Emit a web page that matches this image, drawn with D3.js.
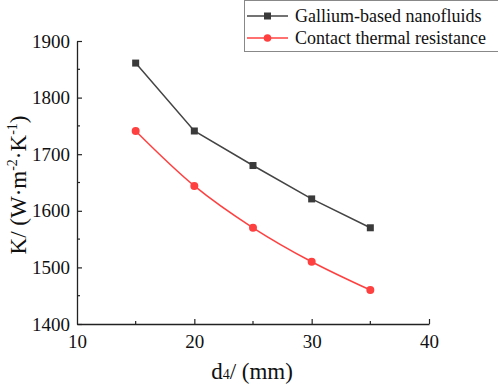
<!DOCTYPE html>
<html><head><meta charset="utf-8">
<script src="https://cdn.jsdelivr.net/npm/d3@7"></script>
<style>body{margin:0;background:#fff}svg{display:block}</style>
</head><body><svg id="c" width="498" height="388"></svg>
<script>
const xValues = [15, 20, 25, 30, 35];
const galliumValues = [1861, 1741, 1680, 1621, 1570];
const contactValues = [1741, 1644, 1570, 1510, 1460];
const seriesNames = ["Gallium-based nanofluids", "Contact thermal resistance"];
const xTicks = [10, 20, 30, 40];
const yTicks = [1400, 1500, 1600, 1700, 1800, 1900];

const FONT = '"Liberation Serif"';
const svg = d3.select("#c");
const m = {l: 77, r: 69, t: 41, b: 64};
const W = 498, H = 388;
const x = d3.scaleLinear().domain([10, 40]).range([m.l, W - m.r]);
const y = d3.scaleLinear().domain([1400, 1900]).range([H - m.b, m.t]);

// axes
const xAxis = svg.append("g").attr("transform", `translate(0,${H - m.b})`)
  .call(d3.axisBottom(x).tickValues(xTicks).tickFormat(d3.format("d")).tickSizeInner(-5).tickSizeOuter(0).tickPadding(11));
const yAxis = svg.append("g").attr("transform", `translate(${m.l},0)`)
  .call(d3.axisLeft(y).tickValues(yTicks).tickFormat(d3.format("d")).tickSizeInner(-5).tickSizeOuter(0).tickPadding(7));
[xAxis, yAxis].forEach(g => {
  g.attr("font-family", null).attr("font-size", null);
  g.select(".domain").attr("stroke", "#222").attr("stroke-width", 1.3);
  g.selectAll(".tick line").attr("stroke", "#222").attr("stroke-width", 1.2);
  g.selectAll(".tick text").style("font-family", FONT).style("font-size", "19px").attr("fill", "#111");
});
xAxis.selectAll(".tick:first-of-type line").remove();
// minor ticks
svg.append("g").selectAll("line").data([15, 25, 35]).join("line")
  .attr("x1", d => x(d)).attr("x2", d => x(d)).attr("y1", H - m.b).attr("y2", H - m.b - 3)
  .attr("stroke", "#222").attr("stroke-width", 1.2);
svg.append("g").selectAll("line").data([1450, 1550, 1650, 1750, 1850]).join("line")
  .attr("y1", d => y(d)).attr("y2", d => y(d)).attr("x1", m.l).attr("x2", m.l + 3)
  .attr("stroke", "#222").attr("stroke-width", 1.2);

// axis titles
const xt = svg.append("text").attr("x", 252).attr("y", 379).attr("text-anchor", "middle")
  .style("font-family", FONT).style("font-size", "23px").attr("fill", "#111");
xt.append("tspan").text("d");
xt.append("tspan").style("font-size", "14px").text("4");
xt.append("tspan").text("/ (mm)");
const yt = svg.append("text").attr("transform", "translate(26,185) rotate(-90)").attr("text-anchor", "middle")
  .style("font-family", FONT).style("font-size", "23px").attr("fill", "#111");
yt.append("tspan").text("K/ (W·m");
yt.append("tspan").style("font-size", "14px").attr("dy", -9).text("-2");
yt.append("tspan").attr("dy", 9).text("·K");
yt.append("tspan").style("font-size", "14px").attr("dy", -9).text("-1");
yt.append("tspan").attr("dy", 9).text(")");

// series
const blackCol = "#3a3a3a", lineGrey = "#444", redCol = "#ff4040";
const d1 = xValues.map((v, i) => [v, galliumValues[i]]);
const d2 = xValues.map((v, i) => [v, contactValues[i]]);
svg.append("path").datum(d1).attr("fill", "none").attr("stroke", lineGrey).attr("stroke-width", 1.5)
  .attr("d", d3.line().x(d => x(d[0])).y(d => y(d[1])));
svg.append("path").datum(d2).attr("fill", "none").attr("stroke", redCol).attr("stroke-width", 1.5)
  .attr("d", d3.line().curve(d3.curveCatmullRom).x(d => x(d[0])).y(d => y(d[1])));
svg.append("g").selectAll("rect").data(d1).join("rect")
  .attr("x", d => x(d[0]) - 3.5).attr("y", d => y(d[1]) - 3.5).attr("width", 7).attr("height", 7).attr("fill", blackCol);
svg.append("g").selectAll("circle").data(d2).join("circle")
  .attr("cx", d => x(d[0])).attr("cy", d => y(d[1])).attr("r", 4).attr("fill", redCol);

// legend
const lg = svg.append("g");
lg.append("rect").attr("x", 244.5).attr("y", 0.5).attr("width", 260).attr("height", 51)
  .attr("fill", "#fff").attr("stroke", "#888").attr("stroke-width", 1);
const rows = [{n: seriesNames[0], c: lineGrey, m: "sq", yy: 16}, {n: seriesNames[1], c: redCol, m: "ci", yy: 38}];
rows.forEach(r => {
  lg.append("line").attr("x1", 247).attr("x2", 288).attr("y1", r.yy).attr("y2", r.yy).attr("stroke", r.c).attr("stroke-width", 1.5);
  if (r.m === "sq") lg.append("rect").attr("x", 264).attr("y", r.yy - 3.5).attr("width", 7).attr("height", 7).attr("fill", blackCol);
  else lg.append("circle").attr("cx", 267.5).attr("cy", r.yy).attr("r", 3.8).attr("fill", redCol);
  lg.append("text").attr("x", 295).attr("y", r.yy + 6).style("font-family", FONT).style("font-size", "18px").attr("fill", "#111").text(r.n);
});
</script></body></html>
